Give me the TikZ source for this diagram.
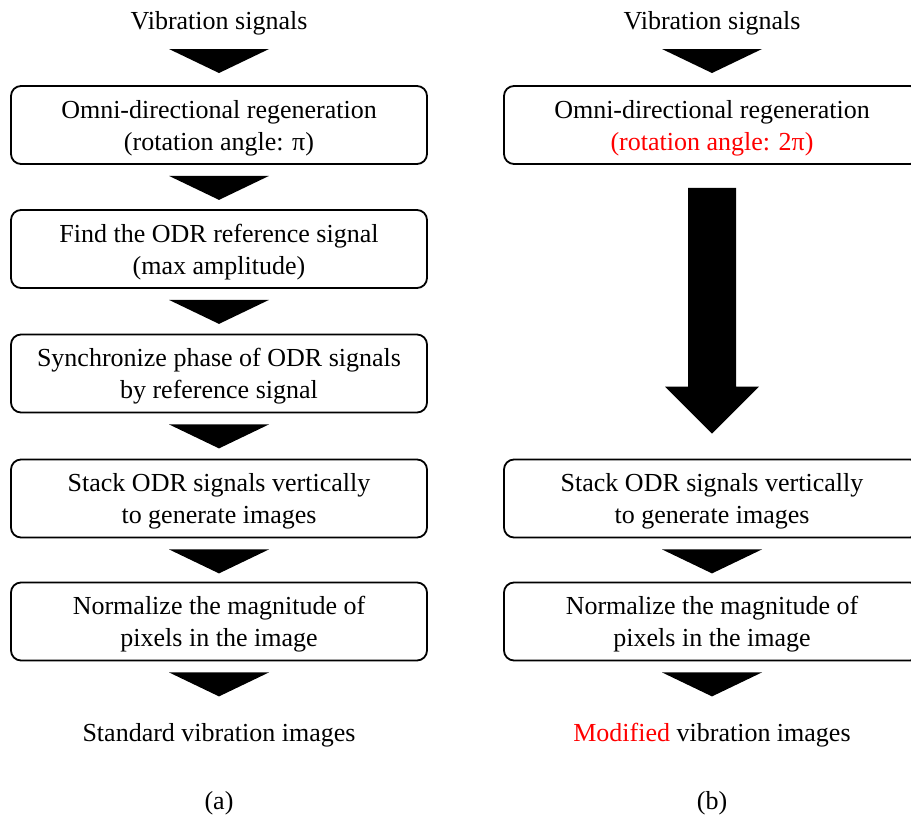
\documentclass[tikz,border=0pt]{standalone}
\usepackage{fontspec}
\setmainfont{Liberation Serif}
\usepackage{tikz}
\usetikzlibrary{calc}
\newcommand{\stagewidth}{416pt}
\newcommand{\stageheight}{78pt}
\tikzstyle{stage}=[draw, line width=1.8pt, rounded corners=10pt, inner sep=0, text depth=0pt,
                   minimum width=\stagewidth, minimum height=\stageheight, align=center]
\tikzstyle{flowtext}=[align=center, inner ysep=3pt]
\tikzstyle{flowchart}=[x=1pt, y=1pt,
                       % Times-like text everywhere.
                       every node/.style={font=\fontsize{26}{32}\selectfont}]
% Black wedge hanging just below an anchor.
\newcommand{\flowtri}[1]{\fill (#1) +(-50,-11) -- +(50,-11) -- +(0,-35) -- cycle;}

\begin{document}
\begin{tikzpicture}[flowchart]
        \useasboundingbox (0,0) rectangle (911,816);
        % (a) standard
        \node[flowtext] (vibA) at (219,793) {Vibration signals};
        \node[stage] (odrA) at (219,691) {Omni-directional regeneration\\(rotation angle: π)};
        \node[stage] (refA) at (219,567) {Find the ODR reference signal\\(max amplitude)};
        \node[stage] (syncA) at (219,442.5) {Synchronize phase of ODR signals\\by reference signal};
        \node[stage] (stackA) at (219,317.5) {Stack ODR signals vertically\\to generate images};
        \node[stage] (normA) at (219,194.5) {Normalize the magnitude of\\pixels in the image};
        \node[flowtext] (outA) at (219,81) {Standard vibration images};
        \node[flowtext] (capA) at (219,13) {(a)};
        \flowtri{vibA.south}
        \flowtri{odrA.south}
        \flowtri{refA.south}
        \flowtri{syncA.south}
        \flowtri{stackA.south}
        \flowtri{normA.south}
        % (b) modified
        \node[flowtext] (vibB) at (712,793) {Vibration signals};
        \node[stage] (odrB) at (712,691) {Omni-directional regeneration\\\textcolor{red}{(rotation angle: 2π)}};
        \node[stage] (stackB) at (712,317.5) {Stack ODR signals vertically\\to generate images};
        \node[stage] (normB) at (712,194.5) {Normalize the magnitude of\\pixels in the image};
        \node[flowtext] (outB) at (712,81) {\textcolor{red}{Modified} vibration images};
        \node[flowtext] (capB) at (712,13) {(b)};
        \flowtri{vibB.south}
        \fill let \p1=(odrB.south), \p2=(stackB.north) in
            (\x1-24pt,\y1-23pt) -- (\x1+24pt,\y1-23pt) -- (\x1+24pt,\y2+72pt) -- (\x1+47pt,\y2+72pt)
            -- (\x1,\y2+25pt) -- (\x1-47pt,\y2+72pt) -- (\x1-24pt,\y2+72pt) -- cycle;
        \flowtri{stackB.south}
        \flowtri{normB.south}
    \end{tikzpicture}
\end{document}
